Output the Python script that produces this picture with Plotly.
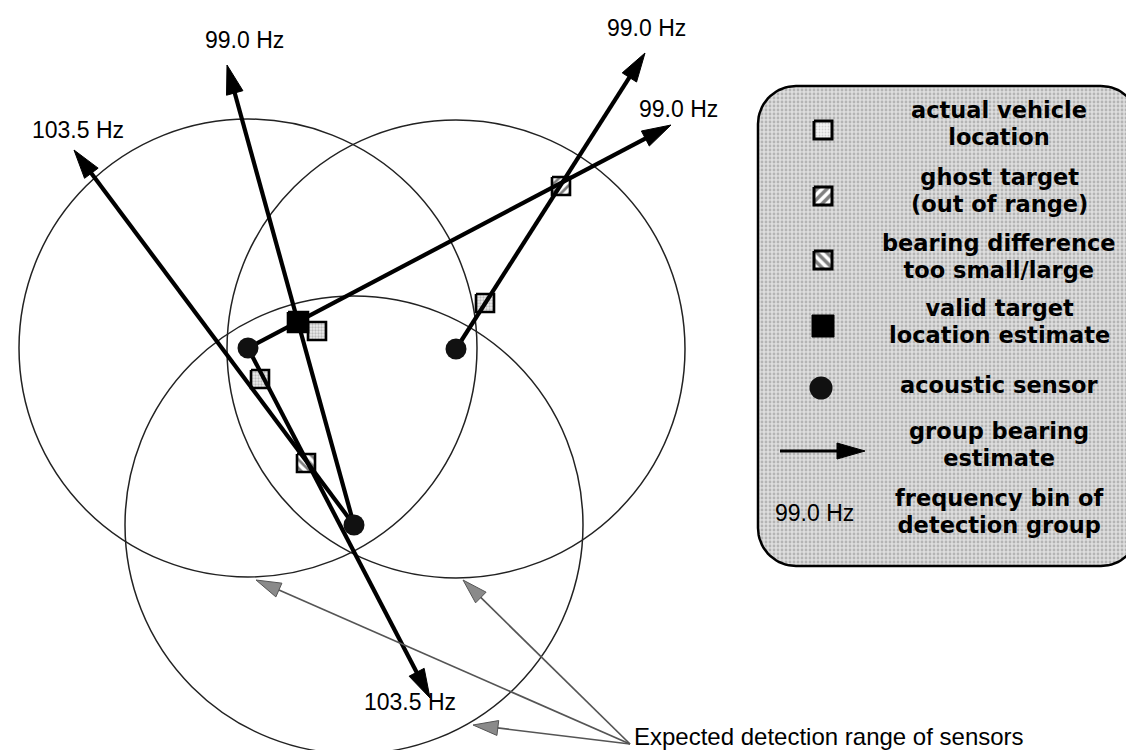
import numpy as np
import plotly.graph_objects as go

# ---------------- data (pixel units) ----------------
sensor_x = [240, 448, 346]
sensor_y = [340, 341, 517]
detection_radius = [229, 229, 229]

# group bearing estimates: sensor index -> arrow tip
bearing_sensor = [2, 2, 0, 0, 1]
bearing_tip_x = [66, 219, 422, 663, 637]
bearing_tip_y = [142, 57, 690, 117, 45]
bearing_freq = ["103.5 Hz", "99.0 Hz", "103.5 Hz", "99.0 Hz", "99.0 Hz"]
freq_label_x = [70, 236, 402, 670, 638]
freq_label_y = [122, 32, 694, 101, 20]

# location markers
actual_x = [477, 309, 252]
actual_y = [295, 323, 371]
ghost_x = [553]
ghost_y = [178]
bdiff_x = [298]
bdiff_y = [455]
valid_x = [290]
valid_y = [314]

# note with pointers
range_note = "Expected detection range of sensors"
range_note_x = 624
range_note_y = 728
range_origin_x = 622
range_origin_y = 736
range_pointer_x = [248, 455, 465]
range_pointer_y = [572, 572, 717]

# legend
legend_box = [750, 78, 1131, 558]
legend_symbol_x = 815
legend_text_x = 991
legend_lines = [["actual vehicle", "location"],
                ["ghost target", "(out of range)"],
                ["bearing difference", "too small/large"],
                ["valid target", "location estimate"],
                ["acoustic sensor"],
                ["group bearing", "estimate"],
                ["frequency bin of", "detection group"]]
legend_text_y = [115, 182, 248, 313, 377, 436, 503]
legend_symbol_y = [122, 188, 252, 318, 380, 443, 505]
legend_freq_text = "99.0 Hz"

FONT = "Liberation Sans, Arial, Helvetica, sans-serif"
LEGEND_FONT = "DejaVu Sans, Liberation Sans, Arial, sans-serif"

# ---------------- helpers ----------------
def square_polys(xs, ys, half):
    px, py = [], []
    for cx, cy in zip(xs, ys):
        px += [cx - half, cx + half, cx + half, cx - half, cx - half, None]
        py += [cy - half, cy - half, cy + half, cy + half, cy - half, None]
    return px, py


def head_poly(x0, y0, x1, y1, length, half_w):
    d = np.array([x1 - x0, y1 - y0], float)
    u = d / np.hypot(*d)
    p = np.array([-u[1], u[0]])
    tip = np.array([x1, y1], float)
    base = tip - length * u
    a = base + half_w * p
    b = base - half_w * p
    return [tip[0], a[0], b[0], tip[0], None], [tip[1], a[1], b[1], tip[1], None]


def rounded_rect(x0, y0, x1, y1, r, n=18):
    xs, ys = [], []
    corners = [(x1 - r, y0 + r, -90, 0), (x1 - r, y1 - r, 0, 90),
               (x0 + r, y1 - r, 90, 180), (x0 + r, y0 + r, 180, 270)]
    for cx, cy, a0, a1 in corners:
        t = np.radians(np.linspace(a0, a1, n))
        xs += list(cx + r * np.cos(t))
        ys += list(cy + r * np.sin(t))
    xs.append(xs[0])
    ys.append(ys[0])
    return xs, ys


fig = go.Figure()

# detection range circles
for cx, cy, r in zip(sensor_x, sensor_y, detection_radius):
    fig.add_shape(type="circle", xref="x", yref="y", x0=cx - r, x1=cx + r,
                  y0=cy - r, y1=cy + r, line=dict(color="#222222", width=1.5), layer="below")

# legend box
bx, by = rounded_rect(*legend_box, 38)
fig.add_trace(go.Scatter(x=bx, y=by, mode="lines", fill="toself",
                         fillcolor="#d2d2d2",
                         fillpattern=dict(shape=".", bgcolor="#dedede", fgcolor="#8a8a8a",
                                          size=4, solidity=0.4),
                         line=dict(color="black", width=2.5), hoverinfo="skip"))


def add_squares(xs, ys, half, pattern=None, color="white", lw=2.6):
    px, py = square_polys(xs, ys, half)
    kw = {}
    if pattern is not None:
        kw["fillpattern"] = pattern
    fig.add_trace(go.Scatter(x=px, y=py, mode="lines", fill="toself", fillcolor=color,
                             line=dict(color="black", width=lw), hoverinfo="skip", **kw))


actual_pat = dict(shape=".", bgcolor="#ececec", fgcolor="#8a8a8a", size=3, solidity=0.45)
ghost_pat = dict(shape="/", bgcolor="white", fgcolor="black", size=6, solidity=0.45)
bdiff_pat = dict(shape="\\", bgcolor="white", fgcolor="black", size=6, solidity=0.45)

# diagram markers (under bearing lines)
add_squares(actual_x, actual_y, 9, actual_pat, "#d8d8d8")
add_squares(ghost_x, ghost_y, 9, ghost_pat)
add_squares(bdiff_x, bdiff_y, 9, bdiff_pat)

# bearing lines + heads
HEAD_L, HEAD_W = 29, 8.5
hx_all, hy_all = [], []
for s, tx, ty in zip(bearing_sensor, bearing_tip_x, bearing_tip_y):
    sx, sy = sensor_x[s], sensor_y[s]
    d = np.hypot(tx - sx, ty - sy)
    ex = tx - (tx - sx) / d * HEAD_L * 0.6
    ey = ty - (ty - sy) / d * HEAD_L * 0.6
    fig.add_trace(go.Scatter(x=[sx, ex], y=[sy, ey], mode="lines",
                             line=dict(color="black", width=4.2), hoverinfo="skip"))
    hx, hy = head_poly(sx, sy, tx, ty, HEAD_L, HEAD_W)
    hx_all += hx
    hy_all += hy
fig.add_trace(go.Scatter(x=hx_all, y=hy_all, mode="lines", fill="toself", fillcolor="black",
                         line=dict(color="black", width=1), hoverinfo="skip"))

# valid target estimate
add_squares(valid_x, valid_y, 10, None, "black")

# sensors
fig.add_trace(go.Scatter(x=sensor_x, y=sensor_y, mode="markers",
                         marker=dict(size=21, color="#111111", line=dict(width=0)),
                         hoverinfo="skip"))

# frequency labels
for txt, lx, ly in zip(bearing_freq, freq_label_x, freq_label_y):
    fig.add_annotation(x=lx, y=ly, text=txt, showarrow=False, xref="x", yref="y",
                       font=dict(family=FONT, size=23, color="black"),
                       xanchor="center", yanchor="middle")

# pointer lines for note
gx, gy = [], []
for px_, py_ in zip(range_pointer_x, range_pointer_y):
    d = np.hypot(px_ - range_origin_x, py_ - range_origin_y)
    ex = px_ - (px_ - range_origin_x) / d * 12
    ey = py_ - (py_ - range_origin_y) / d * 12
    fig.add_trace(go.Scatter(x=[range_origin_x, ex], y=[range_origin_y, ey], mode="lines",
                             line=dict(color="#555555", width=1.7), hoverinfo="skip"))
    hx, hy = head_poly(range_origin_x, range_origin_y, px_, py_, 25, 7.5)
    gx += hx
    gy += hy
fig.add_trace(go.Scatter(x=gx, y=gy, mode="lines", fill="toself", fillcolor="#8a8a8a",
                         line=dict(color="#555555", width=1), hoverinfo="skip"))
fig.add_annotation(x=range_note_x, y=range_note_y, text=range_note, showarrow=False,
                   xref="x", yref="y", xanchor="left", yanchor="middle",
                   font=dict(family=FONT, size=24, color="black"))

# ---------------- legend content ----------------
lsx = legend_symbol_x
sy_ = legend_symbol_y
add_squares([lsx], [sy_[0]], 9, dict(shape=".", bgcolor="#f4f4f4", fgcolor="#aaaaaa", size=3, solidity=0.3), "#f0f0f0", 3)
add_squares([lsx], [sy_[1]], 9, dict(shape="/", bgcolor="white", fgcolor="black", size=7, solidity=0.5), "white", 3)
add_squares([lsx], [sy_[2]], 9, dict(shape="\\", bgcolor="white", fgcolor="black", size=7, solidity=0.5), "white", 3)
add_squares([lsx], [sy_[3]], 11, None, "black", 1)
fig.add_trace(go.Scatter(x=[lsx - 2], y=[sy_[4]], mode="markers",
                         marker=dict(size=23, color="#111111", line=dict(width=0)), hoverinfo="skip"))
la_x0, la_x1 = lsx - 43, lsx + 42
fig.add_trace(go.Scatter(x=[la_x0, la_x1 - 15], y=[sy_[5], sy_[5]], mode="lines",
                         line=dict(color="black", width=3), hoverinfo="skip"))
hx, hy = head_poly(la_x0, sy_[5], la_x1, sy_[5], 28, 8)
fig.add_trace(go.Scatter(x=hx, y=hy, mode="lines", fill="toself", fillcolor="black",
                         line=dict(color="black", width=1), hoverinfo="skip"))
fig.add_annotation(x=lsx - 9, y=sy_[6], text=legend_freq_text, showarrow=False,
                   xref="x", yref="y", xanchor="center", yanchor="middle",
                   font=dict(family=FONT, size=23, color="black"))

# legend texts: base size sets the line spacing, span sets glyph size
for lines, yy in zip(legend_lines, legend_text_y):
    txt = "<br>".join('<span style="font-size:22.5px">%s</span>' % t for t in lines)
    fig.add_annotation(x=legend_text_x, y=yy, text=txt, showarrow=False,
                       xref="x", yref="y", xanchor="center", yanchor="middle", align="center",
                       font=dict(family=LEGEND_FONT, size=21, color="black", weight="bold"))

fig.update_layout(
    width=1134, height=750,
    margin=dict(l=0, r=0, t=0, b=0),
    paper_bgcolor="white", plot_bgcolor="white",
    showlegend=False,
    xaxis=dict(range=[0, 1134], visible=False, fixedrange=True),
    yaxis=dict(range=[750, 0], visible=False, fixedrange=True),
)

fig.write_html("out.html")
